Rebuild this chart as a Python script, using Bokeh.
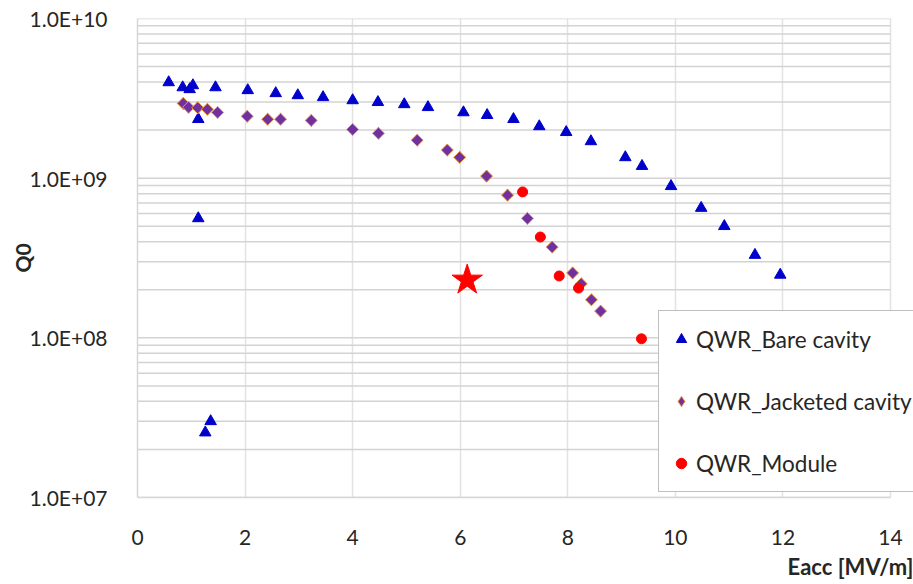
from bokeh.plotting import figure
from bokeh.models import (FixedTicker, CustomJSTickFormatter, Legend, LegendItem,
                          Range1d, ColumnDataSource, Title)
from bokeh.embed import file_html
from bokeh.resources import INLINE
import math

# ---------------- data ----------------
bare_x = [0.58, 0.84, 0.97, 1.03, 1.13, 1.45, 2.05, 2.57, 2.98, 3.45, 4.00, 4.47,
          4.96, 5.40, 6.06, 6.50, 6.99, 7.47, 7.97, 8.43, 9.07, 9.38, 9.92,
          10.48, 10.91, 11.48, 11.95, 1.13, 1.26, 1.36]
bare_q = [3.98e9, 3.70e9, 3.60e9, 3.81e9, 2.34e9, 3.70e9, 3.55e9, 3.40e9, 3.30e9,
          3.21e9, 3.07e9, 2.99e9, 2.90e9, 2.78e9, 2.58e9, 2.48e9, 2.34e9, 2.11e9,
          1.94e9, 1.70e9, 1.35e9, 1.19e9, 8.9e8, 6.5e8, 5.0e8, 3.30e8, 2.48e8,
          5.6e8, 2.55e7, 3.0e7]

jack_x = [0.85, 0.95, 1.12, 1.30, 1.49, 2.04, 2.42, 2.66, 3.23, 4.00, 4.48, 5.20,
          5.76, 5.99, 6.49, 6.88, 7.25, 7.71, 8.09, 8.25, 8.44, 8.61]
jack_q = [2.94e9, 2.78e9, 2.76e9, 2.70e9, 2.58e9, 2.44e9, 2.34e9, 2.34e9, 2.30e9,
          2.02e9, 1.91e9, 1.73e9, 1.50e9, 1.35e9, 1.03e9, 7.83e8, 5.6e8, 3.7e8,
          2.55e8, 2.18e8, 1.73e8, 1.47e8]

mod_x = [7.16, 7.49, 7.84, 8.20, 9.37]
mod_q = [8.2e8, 4.28e8, 2.44e8, 2.05e8, 9.86e7]

star_x = [6.13]
star_q = [2.30e8]

x_ticks = [0, 2, 4, 6, 8, 10, 12, 14]
y_ticks = [1e7, 1e8, 1e9, 1e10]
y_minor = [k * 10 ** n for n in (7, 8, 9) for k in range(2, 10)]

series_labels = ["QWR_Bare cavity", "QWR_Jacketed cavity", "QWR_Module"]
x_title = "Eacc [MV/m]"
y_title = "Q0"

FONT = "Lato"
TXT = "#262626"
X_MIN, X_MAX = x_ticks[0], x_ticks[-1]

# ---------------- figure ----------------
# the plotting frame runs to the right edge of the picture (the chart is cut there)
x_end = X_MAX + 23 / 53.79
p = figure(width=913, height=584, y_axis_type="log",
           x_range=Range1d(X_MIN, x_end), y_range=Range1d(1e7, 1e10),
           output_backend="svg", toolbar_location=None,
           min_border_left=137, min_border_right=0,
           min_border_top=18, min_border_bottom=87)
p.outline_line_color = None
p.background_fill_color = "white"
p.border_fill_color = "white"

p.xaxis.ticker = FixedTicker(ticks=x_ticks)
p.xaxis.bounds = (X_MIN, X_MAX)
p.yaxis.ticker = FixedTicker(ticks=y_ticks, minor_ticks=y_minor)
p.yaxis.formatter = CustomJSTickFormatter(
    code="const e = Math.round(Math.log10(tick)); return '1.0E+' + (e < 10 ? '0' + e : '' + e);")

for ax in (p.xaxis, p.yaxis):
    ax.major_tick_line_color = None
    ax.minor_tick_line_color = None
    ax.axis_line_color = "#d6d6d6"
    ax.axis_line_width = 1.5
    ax.major_label_text_font = FONT
    ax.major_label_text_font_size = "21px"
    ax.major_label_text_color = TXT
    ax.axis_label_text_font = FONT
    ax.axis_label_text_font_size = "21px"
    ax.axis_label_text_font_style = "bold"
    ax.axis_label_text_color = TXT
p.xaxis.major_label_standoff = 26
p.yaxis.major_label_standoff = 24

p.yaxis.axis_label = y_title
p.yaxis.axis_label_standoff = -8

# x-axis title, right-aligned under the axis
p.add_layout(Title(text=x_title, align="right", text_font=FONT, text_font_size="22px",
                   text_font_style="bold", text_color=TXT, standoff=7), "below")

p.xgrid.grid_line_color = "#e2e2e2"
p.xgrid.grid_line_width = 1.5
p.ygrid.grid_line_color = None
p.ygrid.minor_grid_line_color = None

# horizontal gridlines, limited to the x extent of the axis
grid_y = y_ticks + y_minor
p.segment(x0=[X_MIN] * len(grid_y), x1=[X_MAX] * len(grid_y), y0=grid_y, y1=grid_y,
          line_color="#d3d3d3", line_width=1.5)

r_bare = p.scatter(bare_x, bare_q, marker="triangle", size=11.5,
                   fill_color="#0000cc", line_color="#0000cc")
jack_src = ColumnDataSource(dict(x=jack_x, q=jack_q))
# diamond renderer (fully covered by the rotated squares below) supplies the legend glyph
r_jack = p.scatter("x", "q", source=jack_src, marker="diamond", size=12,
                   fill_color="#7030a0", line_color="#ed9c4a", line_width=1)
p.scatter("x", "q", source=jack_src, marker="square", size=8.5, angle=math.pi / 4,
          fill_color="#7030a0", line_color="#ed9c4a", line_width=1)
r_mod = p.scatter(mod_x, mod_q, marker="circle", size=10,
                  fill_color="#ff0000", line_color="#ff0000")
p.scatter(star_x, star_q, marker="star", size=32,
          fill_color="#ff0000", line_color="#ff0000")

legend = Legend(items=[LegendItem(label=series_labels[0], renderers=[r_bare]),
                       LegendItem(label=series_labels[1], renderers=[r_jack]),
                       LegendItem(label=series_labels[2], renderers=[r_mod])],
                location=(521, 5), margin=0, padding=9,
                glyph_width=26, glyph_height=38, label_height=38,
                spacing=24, label_standoff=2)
legend.label_text_font = FONT
legend.label_text_font_size = "22.5px"
legend.label_text_color = TXT
legend.border_line_color = "#7f7f7f"
legend.border_line_width = 1.5
legend.background_fill_color = "white"
legend.background_fill_alpha = 1.0
p.add_layout(legend)

open("out.html", "w").write(file_html(p, INLINE))
